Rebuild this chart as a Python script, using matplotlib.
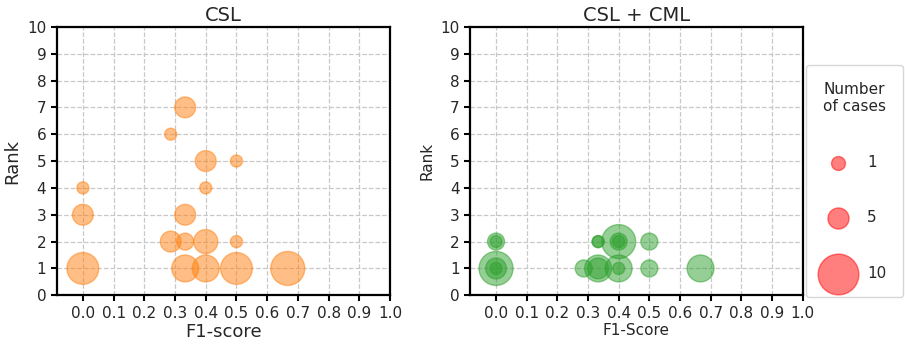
import numpy as np
import matplotlib
matplotlib.use('Agg')
import matplotlib.pyplot as plt

# CSL results: F1-score, rank, number of cases
csl_f1 = [0.0, 0.0, 0.0, 0.286, 0.333, 0.333, 0.333, 0.286, 0.333, 0.4, 0.4, 0.4, 0.4, 0.5, 0.5, 0.5, 0.667]
csl_rank = [1, 3, 4, 6, 7, 3, 2, 2, 1, 5, 4, 2, 1, 5, 2, 1, 1]
csl_cases = [7, 3, 1, 1, 3, 3, 2, 3, 5, 3, 1, 4, 5, 1, 1, 7, 8]

# CSL + CML results (several runs overlap at the same spot)
cml_f1 = [0.0, 0.0, 0.0, 0.0, 0.0, 0.286, 0.333, 0.333, 0.333, 0.333, 0.4, 0.4, 0.4, 0.4, 0.4, 0.5, 0.5, 0.667]
cml_rank = [1, 1, 1, 2, 2, 1, 1, 1, 2, 2, 1, 1, 2, 2, 2, 1, 2, 1]
cml_cases = [8, 3, 1, 2, 1, 2, 5, 3, 1, 1, 5, 1, 8, 2, 1, 2, 2, 5]

legend_cases = [1, 5, 10]
legend_sizes = [100, 230, 860]

x_ticks = np.round(np.arange(0, 1.01, 0.1), 1)
y_ticks = np.arange(0, 11, 1)

text_col = '#262626'


def size_of(cases):
    return [75 * c for c in cases]


def style_axes(ax, title, xlabel, label_size):
    ax.set_xlim(-0.085, 1.0)
    ax.set_ylim(0, 10)
    ax.set_xticks(x_ticks)
    ax.set_yticks(y_ticks)
    ax.tick_params(labelsize=11, width=1.5, length=4, labelcolor=text_col)
    ax.grid(True, linestyle='--', color='#c8c8c8', linewidth=0.9)
    ax.set_axisbelow(True)
    for sp in ax.spines.values():
        sp.set_linewidth(1.6)
    ax.set_title(title, fontsize=14, pad=4, color=text_col)
    ax.set_xlabel(xlabel, fontsize=label_size, labelpad=2, color=text_col)
    ax.set_ylabel('Rank', fontsize=label_size, color=text_col)


fig = plt.figure(figsize=(9.05, 3.44), dpi=100)
ax1 = fig.add_axes([0.0627, 0.1416, 0.3683, 0.7804])
ax2 = fig.add_axes([0.5193, 0.1416, 0.3676, 0.7804])

ax1.scatter(csl_f1, csl_rank, s=size_of(csl_cases), color='#ff7f0e', alpha=0.5, linewidths=1)
style_axes(ax1, 'CSL', 'F1-score', 13)

ax2.scatter(cml_f1, cml_rank, s=size_of(cml_cases), color='#2ca02c', alpha=0.5, linewidths=1)
style_axes(ax2, 'CSL + CML', 'F1-Score', 11)

handles = [ax2.scatter([], [], s=s, color='red', alpha=0.5) for s in legend_sizes]
leg = fig.legend(handles, [str(c) for c in legend_cases], title='Number\nof cases',
                 loc='upper left', bbox_to_anchor=(0.8906, 0.811), borderaxespad=0,
                 frameon=True, fontsize=11, title_fontsize=11, labelspacing=2.65,
                 borderpad=1.1, handletextpad=0.9, scatterpoints=1)
leg.get_title().set_multialignment('left')
for t in leg.get_texts():
    t.set_color(text_col)
leg.get_title().set_color(text_col)

fig.savefig('out.png', dpi=100)
